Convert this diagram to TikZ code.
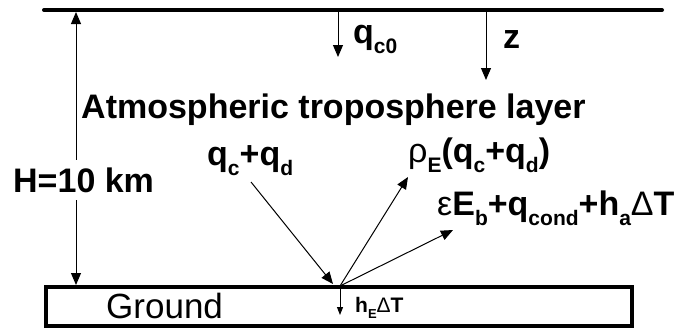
\documentclass[tikz,border=0pt]{standalone}
\usepackage{fontspec}
\setmainfont{Liberation Sans}
\usetikzlibrary{arrows.meta}
\newcommand{\lsb}[1]{\raisebox{-0.3em}{\fontsize{21}{21}\selectfont #1}}
\newcommand{\ssb}[1]{\raisebox{-0.3em}{\fontsize{13}{13}\selectfont #1}}
\newcommand{\gk}[1]{{\mdseries #1}}
\begin{document}
\begin{tikzpicture}[x=1pt,y=-1pt,
  lbl/.style={inner sep=0pt, anchor=base west, font=\fontsize{34}{37}\selectfont\bfseries},
  small/.style={inner sep=0pt, anchor=base west, font=\fontsize{21}{24}\selectfont\bfseries},
  arr/.style={line width=1pt, -{Triangle[length=12pt,width=10pt]}},
  sarr/.style={line width=1pt, -{Triangle[length=8pt,width=6pt]}},
  thick line/.style={line width=4pt, line cap=round}
]
\useasboundingbox (0,0) rectangle (676,332);
% top line
\coordinate (TL) at (44,10);
\coordinate (TR) at (662,10);
\draw[thick line] (TL) -- (TR);
% ground box
\node[draw, line width=4pt, minimum width=586pt, minimum height=39pt, inner sep=0pt] (box) at (339,306.5) {};
\node[inner sep=0pt, anchor=base west, font=\fontsize{35}{38}\selectfont] (gtxt) at (106,318) {Ground};
% H arrow
\coordinate (Htop) at (76,12);
\coordinate (Hbot) at (76,285);
\node[lbl, inner ysep=7.5pt] (H) at (13,192) {H=10 km};
\draw[arr] (H.north -| Htop) -- (Htop);
\draw[arr] (H.south -| Hbot) -- (Hbot);
% qc0
\coordinate (q0s) at (338,12);
\coordinate (q0e) at (338,57);
\draw[arr] (q0s) -- (q0e);
\node[lbl] (qc0) at (353,43) {q\lsb{c0}};
% z
\coordinate (zs) at (486,12);
\coordinate (ze) at (486,80);
\draw[arr] (zs) -- (ze);
\node[lbl] (z) at (503,48) {z};
% title
\node[lbl] (atm) at (81,118) {Atmospheric troposphere layer};
% labels
\node[lbl] (qcd) at (207,165) {q\lsb{c}+q\lsb{d}};
\node[lbl] (rho) at (408,162) {\gk{ρ}\lsb{E}(q\lsb{c}+q\lsb{d})};
\node[lbl] (eps) at (437,215) {\gk{ε}E\lsb{b}+q\lsb{cond}+h\lsb{a}\gk{Δ}T};
\node[small] (hE) at (355,312) {h\ssb{E}\gk{Δ}T};
% arrows at the ground
\coordinate (C) at (340,286);
\coordinate (qin) at (251,182);
\coordinate (qtip) at (333,284);
\coordinate (rtip) at (408,177);
\coordinate (etip) at (453,230);
\coordinate (dtip) at (340,315);
\draw[arr] (qin) -- (qtip);
\draw[arr] (C) -- (rtip);
\draw[arr] (C) -- (etip);
\draw[sarr] (C) -- (dtip);
\end{tikzpicture}
\end{document}
